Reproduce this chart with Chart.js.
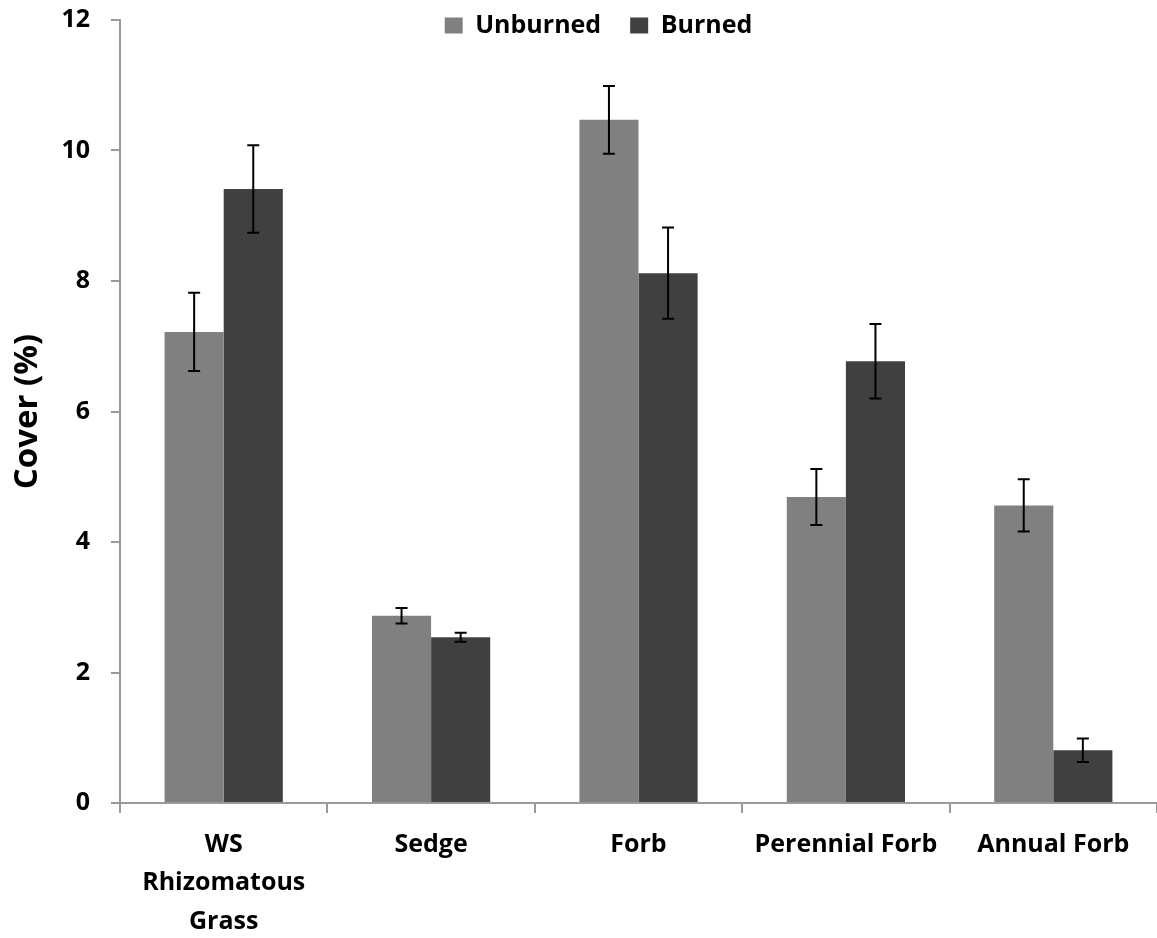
<!DOCTYPE html>
<html>
<head>
<meta charset="utf-8">
<script src="https://cdn.jsdelivr.net/npm/chart.js@4/dist/chart.umd.min.js"></script>
<style>
  html, body { margin: 0; padding: 0; background: #fff; }
  #wrap { width: 1157px; height: 938px; position: relative; }
</style>
</head>
<body>
<div id="wrap"><canvas id="chart"></canvas></div>
<script>
// --- Data ---
const categories = [['WS', 'Rhizomatous', 'Grass'], 'Sedge', 'Forb', 'Perennial Forb', 'Annual Forb'];
const unburned = [7.22, 2.87, 10.47, 4.69, 4.56];
const burned = [9.41, 2.54, 8.12, 6.77, 0.81];
const unburnedErr = [0.60, 0.12, 0.52, 0.43, 0.40];
const burnedErr = [0.67, 0.07, 0.70, 0.57, 0.18];
const yTicks = [0, 2, 4, 6, 8, 10, 12];

const FONT = '"Open Sans", Lato, sans-serif';
const axisGrey = '#9a9a9a';

// error bars drawn from the y scale
const errorBars = {
    id: 'errorBars',
    afterDatasetsDraw(chart) {
        const ctx = chart.ctx;
        const y = chart.scales.y;
        chart.data.datasets.forEach((ds, i) => {
            const meta = chart.getDatasetMeta(i);
            meta.data.forEach((bar, j) => {
                const v = ds.data[j], e = ds.errors[j];
                const top = y.getPixelForValue(v + e);
                const bot = y.getPixelForValue(v - e);
                ctx.save();
                ctx.strokeStyle = '#000';
                ctx.lineWidth = 2;
                ctx.beginPath();
                ctx.moveTo(bar.x, top); ctx.lineTo(bar.x, bot);
                ctx.moveTo(bar.x - 6, top); ctx.lineTo(bar.x + 6, top);
                ctx.moveTo(bar.x - 6, bot); ctx.lineTo(bar.x + 6, bot);
                ctx.stroke();
                ctx.restore();
            });
        });
    }
};

// keep the legend from pushing the plot down, and nudge it into place
const legendPlace = {
    id: 'legendPlace',
    beforeInit(chart) {
        const fit = chart.legend.fit;
        chart.legend.fit = function () {
            fit.bind(chart.legend)();
            this.height = 4;
        };
    },
    afterLayout(chart) {
        const lg = chart.legend;
        lg.left += 20; lg.right += 20;
        lg.top = -16; lg.bottom = 50;
    }
};

new Chart(document.getElementById('chart'), {
    type: 'bar',
    data: {
        labels: categories,
        datasets: [
            { label: 'Unburned', data: unburned, errors: unburnedErr, backgroundColor: '#808080' },
            { label: 'Burned', data: burned, errors: burnedErr, backgroundColor: '#404040' }
        ]
    },
    options: {
        responsive: true,
        maintainAspectRatio: false,
        animation: false,
        layout: { padding: { top: 0, right: 0, left: 0, bottom: 0 } },
        datasets: { bar: { categoryPercentage: 0.57, barPercentage: 1.0 } },
        plugins: {
            tooltip: { enabled: false },
            legend: {
                position: 'top',
                labels: {
                    color: '#000',
                    boxWidth: 18,
                    boxHeight: 16,
                    padding: 29,
                    font: { family: FONT, size: 25, weight: 'bold' }
                }
            }
        },
        scales: {
            x: {
                afterFit(scale) { scale.height = 135; },
                grid: { display: true, drawOnChartArea: false, offset: true, tickLength: 10, color: axisGrey, lineWidth: 2 },
                border: { color: axisGrey, width: 2 },
                ticks: {
                    color: '#000',
                    padding: 12,
                    maxRotation: 0,
                    autoSkip: false,
                    font: { family: FONT, size: 25, weight: 'bold', lineHeight: 1.55 }
                }
            },
            y: {
                min: 0,
                max: 12,
                afterFit(scale) { scale.width = 120; scale.paddingTop = 20; },
                afterBuildTicks(scale) { scale.ticks = yTicks.map(v => ({ value: v })); },
                grid: { display: true, drawOnChartArea: false, tickLength: 9, color: axisGrey, lineWidth: 2 },
                border: { color: axisGrey, width: 2 },
                ticks: {
                    color: '#000',
                    padding: 21,
                    font: { family: FONT, size: 25, weight: 'bold' }
                },
                title: {
                    display: true,
                    text: 'Cover (%)',
                    color: '#000',
                    padding: { top: 8, bottom: 0 },
                    font: { family: FONT, size: 33, weight: 'bold' }
                }
            }
        }
    },
    plugins: [errorBars, legendPlace]
});
</script>
</body>
</html>
